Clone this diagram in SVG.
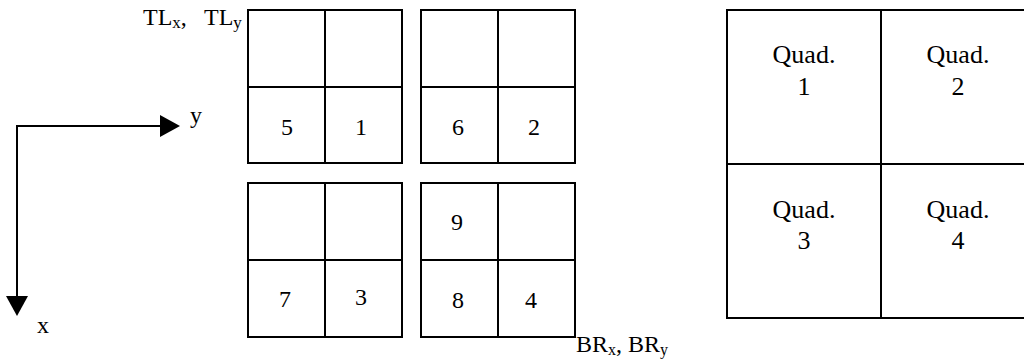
<svg xmlns="http://www.w3.org/2000/svg" width="1024" height="360" viewBox="0 0 1024 360">
<style>
.cell{fill:none;stroke:#000;stroke-width:2}
.t{font-family:"Liberation Serif","Times New Roman",serif;font-size:24px;fill:#000}
.m{text-anchor:middle}
.q{font-family:"Liberation Serif","Times New Roman",serif;font-size:26px;fill:#000;text-anchor:middle}
.ax{stroke:#000;stroke-width:2;fill:none}
</style>
<rect width="1024" height="360" fill="#fff"/>
<g id="connectors">
<polyline class="ax" points="162,126 17,126 17,298"/>
<polygon points="160,115 180,126 160,137" fill="#000"/>
<polygon points="6,296 17,316 28,296" fill="#000"/>
</g>
<g id="axis-labels">
<text class="t" x="190" y="123">y</text>
<text class="t" x="37" y="333">x</text>
<text class="t" x="143" y="25" font-size="26">TL<tspan font-size="17" dy="3">x</tspan><tspan dy="-3">,</tspan><tspan x="204">TL</tspan><tspan font-size="17" dy="3">y</tspan></text>
<text class="t" x="576" y="352">BR<tspan font-size="16" dy="3">x</tspan><tspan dy="-3">, BR</tspan><tspan font-size="16" dy="3">y</tspan></text>
</g>
<g id="block-top-left">
<rect class="cell" x="248" y="10" width="154" height="153"/>
<line class="cell" x1="325" y1="10" x2="325" y2="163"/>
<line class="cell" x1="248" y1="87" x2="402" y2="87"/>
<text class="t m" x="287" y="135">5</text>
<text class="t m" x="361" y="135">1</text>
</g>
<g id="block-top-right">
<rect class="cell" x="421" y="10" width="154" height="153"/>
<line class="cell" x1="498" y1="10" x2="498" y2="163"/>
<line class="cell" x1="421" y1="87" x2="575" y2="87"/>
<text class="t m" x="458" y="135">6</text>
<text class="t m" x="534" y="135">2</text>
</g>
<g id="block-bottom-left">
<rect class="cell" x="248" y="183" width="154" height="154"/>
<line class="cell" x1="325" y1="183" x2="325" y2="337"/>
<line class="cell" x1="248" y1="260" x2="402" y2="260"/>
<text class="t m" x="285" y="307">7</text>
<text class="t m" x="361" y="305">3</text>
</g>
<g id="block-bottom-right">
<rect class="cell" x="421" y="183" width="154" height="154"/>
<line class="cell" x1="498" y1="183" x2="498" y2="337"/>
<line class="cell" x1="421" y1="260" x2="575" y2="260"/>
<text class="t m" x="457" y="230">9</text>
<text class="t m" x="458" y="308">8</text>
<text class="t m" x="531" y="308">4</text>
</g>
<g id="quadrants">
<rect class="cell" x="727" y="10" width="308" height="308"/>
<line class="cell" x1="881" y1="10" x2="881" y2="318"/>
<line class="cell" x1="727" y1="164" x2="1035" y2="164"/>
<text class="q" x="804" y="63">Quad.</text>
<text class="q" x="804" y="95">1</text>
<text class="q" x="958" y="63">Quad.</text>
<text class="q" x="958" y="95">2</text>
<text class="q" x="804" y="218">Quad.</text>
<text class="q" x="804" y="249">3</text>
<text class="q" x="958" y="218">Quad.</text>
<text class="q" x="958" y="249">4</text>
</g>
</svg>
